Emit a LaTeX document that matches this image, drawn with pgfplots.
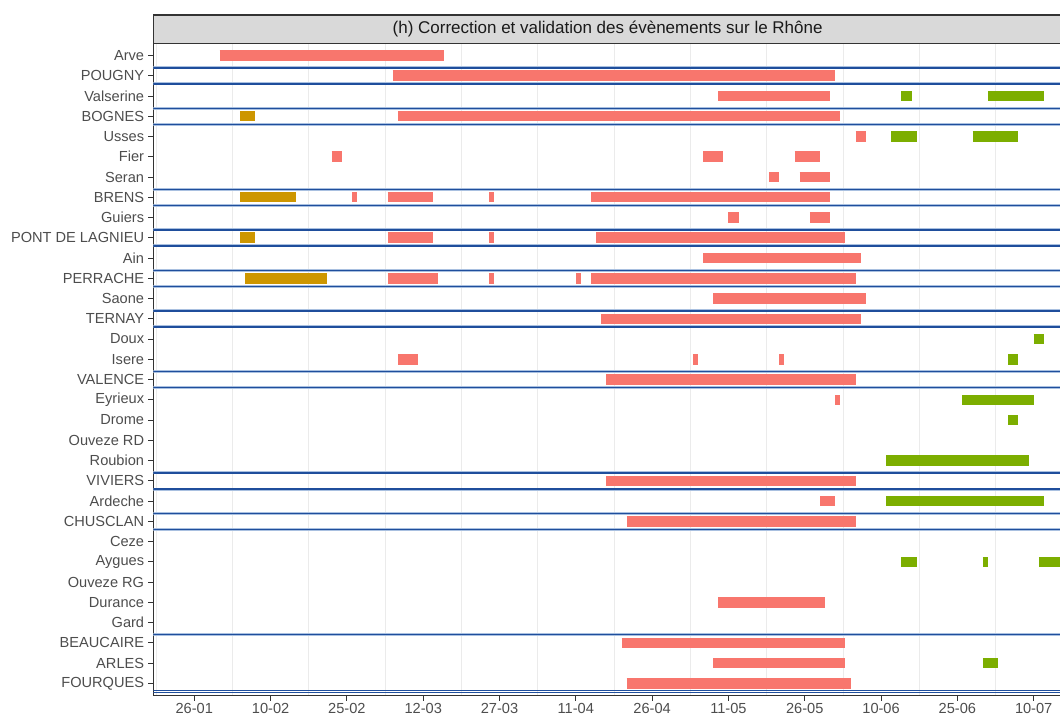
\documentclass[border=0pt]{standalone}
\usepackage{fontspec}
\setmainfont{Liberation Sans}
\usepackage{pgfplots}
\usepackage{pgfplotstable}
\pgfplotsset{compat=1.18}
\definecolor{redbar}{HTML}{F8766D}
\definecolor{goldbar}{HTML}{CD9600}
\definecolor{greenbar}{HTML}{7CAE00}
\definecolor{stationblue}{HTML}{1F4E9C}
\definecolor{lightblue}{HTML}{A9C0E0}
\definecolor{gridgrey}{HTML}{EBEBEB}
\definecolor{axisgrey}{HTML}{333333}
\definecolor{labelgrey}{HTML}{4D4D4D}
\definecolor{stripgrey}{HTML}{D9D9D9}
\definecolor{titlegrey}{HTML}{1A1A1A}

% day 0 = 26-01 ; each bar: start row, end row, nan row
\pgfplotstableread{
x y
5 32
49 32
nan nan
39 31
126 31
nan nan
103 30
125 30
nan nan
40 29
127 29
nan nan
130 28
132 28
nan nan
27 27
29 27
nan nan
100 27
104 27
nan nan
118 27
123 27
nan nan
113 26
115 26
nan nan
119 26
125 26
nan nan
31 25
32 25
nan nan
38 25
47 25
nan nan
58 25
59 25
nan nan
78 25
125 25
nan nan
105 24
107 24
nan nan
121 24
125 24
nan nan
38 23
47 23
nan nan
58 23
59 23
nan nan
79 23
128 23
nan nan
100 22
131 22
nan nan
38 21
48 21
nan nan
58 21
59 21
nan nan
75 21
76 21
nan nan
78 21
130 21
nan nan
102 20
132 20
nan nan
80 19
131 19
nan nan
40 17
44 17
nan nan
98 17
99 17
nan nan
115 17
116 17
nan nan
81 16
130 16
nan nan
126 15
127 15
nan nan
81 11
130 11
nan nan
123 10
126 10
nan nan
85 9
130 9
nan nan
103 5
124 5
nan nan
84 3
128 3
nan nan
102 2
128 2
nan nan
85 1
129 1
}\redbars

\pgfplotstableread{
x y
9 29
12 29
nan nan
9 25
20 25
nan nan
9 23
12 23
nan nan
10 21
26 21
}\goldbars

\pgfplotstableread{
x y
139 30
141 30
nan nan
156 30
167 30
nan nan
137 28
142 28
nan nan
153 28
162 28
nan nan
165 18
167 18
nan nan
160 17
162 17
nan nan
151 15
165 15
nan nan
160 14
162 14
nan nan
136 12
164 12
nan nan
136 10
167 10
nan nan
139 7
142 7
nan nan
155 7
156 7
nan nan
166 7
172 7
nan nan
155 2
158 2
}\greenbars

\pgfplotstableread{
x y
-20 31.39
200 31.39
nan nan
-20 30.595
200 30.595
nan nan
-20 29.39
200 29.39
nan nan
-20 28.595
200 28.595
nan nan
-20 25.39
200 25.39
nan nan
-20 24.595
200 24.595
nan nan
-20 23.39
200 23.39
nan nan
-20 22.595
200 22.595
nan nan
-20 21.39
200 21.39
nan nan
-20 20.595
200 20.595
nan nan
-20 19.39
200 19.39
nan nan
-20 18.595
200 18.595
nan nan
-20 16.39
200 16.39
nan nan
-20 15.595
200 15.595
nan nan
-20 11.39
200 11.39
nan nan
-20 10.595
200 10.595
nan nan
-20 9.39
200 9.39
nan nan
-20 8.595
200 8.595
nan nan
-20 3.41
200 3.41
}\stationlines

\pgfplotstableread{
x y
-20 0.66
200 0.66
nan nan
-20 0.565
200 0.565
}\bottomlines

\begin{document}
\begin{tikzpicture}
\useasboundingbox (0,0) rectangle (1060pt,716pt);
\begin{axis}[
  name=ax,
  at={(153.3pt,20.5pt)}, anchor=south west,
  width=908.7pt, height=652.2pt, scale only axis,
  xmin=-8.06, xmax=170.57, ymin=0.4, ymax=32.6,
  axis line style={draw=axisgrey, line width=1pt},
  xtick={0,15,...,165},
  xticklabels={26-01,10-02,25-02,12-03,27-03,11-04,26-04,11-05,26-05,10-06,25-06,10-07},
  minor xtick={-7.5,7.5,...,157.5},
  xminorgrids,
  minor grid style={draw=gridgrey, line width=0.8pt},
  minor tick length=0pt,
  ytick={1,...,32},
  yticklabels={FOURQUES,ARLES,BEAUCAIRE,Gard,Durance,Ouveze RG,Aygues,Ceze,CHUSCLAN,Ardeche,VIVIERS,Roubion,Ouveze RD,Drome,Eyrieux,VALENCE,Isere,Doux,TERNAY,Saone,PERRACHE,Ain,PONT DE LAGNIEU,Guiers,BRENS,Seran,Fier,Usses,BOGNES,Valserine,POUGNY,Arve},
  tick align=outside,
  major tick length=5pt,
  major tick style={draw=axisgrey, line width=0.9pt},
  xtick pos=bottom, ytick pos=left,
  ticklabel style={font=\fontsize{14.6}{16}\selectfont, text=labelgrey},
  yticklabel style={anchor=east, inner sep=0pt, xshift=-4pt},
  xticklabel style={anchor=north, inner sep=0pt, yshift=-2.8pt},
  unbounded coords=jump,
  clip=true,
]
\addplot[draw=lightblue, line width=3pt] table[x=x,y=y] {\stationlines};
\addplot[draw=stationblue, line width=1.4pt] table[x=x,y=y] {\stationlines};
\addplot[draw=stationblue, line width=1pt] table[x=x,y=y] {\bottomlines};
\addplot[draw=redbar, line width=10.5pt] table[x=x,y=y] {\redbars};
\addplot[draw=goldbar, line width=10.5pt] table[x=x,y=y] {\goldbars};
\addplot[draw=greenbar, line width=10.5pt] table[x=x,y=y] {\greenbars};
\end{axis}
\draw[fill=stripgrey, draw=axisgrey, line width=1.2pt] (ax.north west) rectangle ([yshift=28.3pt]ax.north east);
\node[text=titlegrey, font=\fontsize{17}{19}\selectfont, inner sep=0pt] at ([yshift=14.15pt]ax.north) {(h) Correction et validation des évènements sur le Rhône};
\end{tikzpicture}
\end{document}
